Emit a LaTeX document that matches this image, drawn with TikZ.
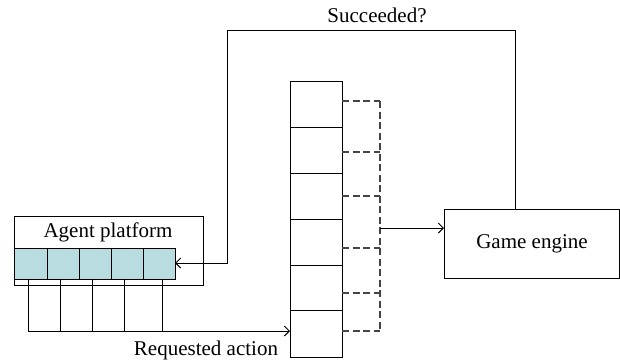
\documentclass[tikz,border=0pt]{standalone}
\usepackage{fontspec}
\setmainfont{Liberation Serif}
\usetikzlibrary{arrows.meta}
\definecolor{cellfill}{HTML}{B8DCDF}
\definecolor{dashgray}{HTML}{444444}
\begin{document}
\begin{tikzpicture}[x=1pt,y=-1pt,line width=1pt,
  lbl/.style={font=\fontsize{21}{23}\selectfont,inner sep=0pt},
  arr/.style={-{Straight Barb[length=5pt,width=10pt,line width=1pt]}},
  dl/.style={dash pattern=on 7pt off 3.5pt,draw=dashgray,line width=1.1pt}]
\useasboundingbox (0,0) rectangle (620,360);
% agent platform
\draw (14,216) rectangle (203,285);
\node[lbl] (aptext) at (108,232) {Agent platform};
\foreach \i/\a/\b in {1/14/47,2/47/79,3/79/111,4/111/143,5/143/175}{
  \draw[fill=cellfill] (\a,248) rectangle (\b,279);
}
\coordinate (apin) at (175,263);
% output lines from cells
\foreach \x in {28,60,92,124,162}{ \draw (\x,279) -- (\x,331); }
\coordinate (reqstart) at (28,331);
% queue
\foreach \a/\b in {81/127,127/173,173/219,219/265,265/310,310/357}{
  \draw (290,\a) rectangle (342,\b);
}
\coordinate (qin) at (290,331);
\draw[arr] (reqstart) -- (qin);
\node[lbl] (req) at (206,350) {Requested action};
% dashed connectors
\foreach \y in {101,152,196,248,293,331}{ \draw[dl] (342,\y) -- (380,\y); }
\draw[dl] (380,101) -- (380,331);
% game engine
\node[draw,minimum width=175pt,minimum height=69pt,inner sep=0pt,anchor=north west] (ge) at (444,209) {};
\node[lbl] at (ge.center) {Game engine};
\coordinate (dj) at (380,228);
\draw[arr] (dj) -- (dj -| ge.west);
% feedback
\coordinate (t1) at (515,30);
\coordinate (t2) at (227,30);
\draw[arr] (515,209) -- (t1) -- (t2) -- (t2 |- apin) -- (apin);
\node[lbl] (succ) at (377,15) {Succeeded?};
\end{tikzpicture}
\end{document}
